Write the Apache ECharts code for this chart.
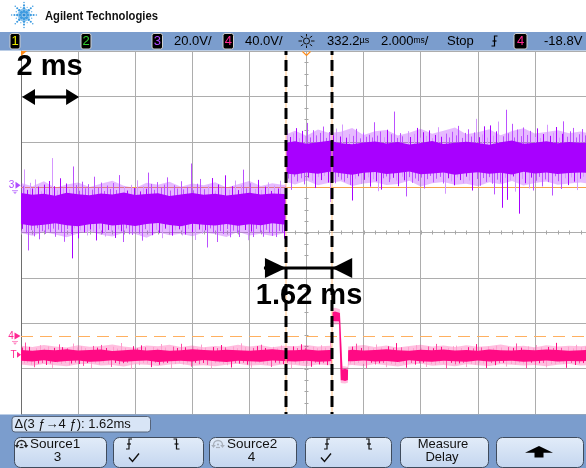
<!DOCTYPE html>
<html>
<head>
<meta charset="utf-8">
<script src="https://cdn.jsdelivr.net/npm/echarts@6/dist/echarts.min.js"></script>
<style>
  html, body { margin: 0; padding: 0; background: #ffffff; }
  #scope { width: 586px; height: 468px; }
</style>
</head>
<body>
<div id="scope"></div>
<script>
// ---- Acquisition settings ----
const timePerDiv = 2;                 // ms / div
const timeSpan = [-10, 10];           // ms, screen centre = 0
const timeVisibleMax = 9.79;          // right edge of the screen capture
const ch3Scale = 20;                  // V / div
const ch4Scale = 40;                  // V / div
const ch3Range = [-100, 60];          // V, 8 divisions
const ch4Range = [-68.8, 251.2];      // V, 8 divisions
const ch4TriggerLevel = -18.8;        // V
const delayText = '332.2';            // µs
const timebaseText = '2.000';         // ms/div

// ---- Cursors (ms) ----
const cursorA = -0.72;
const cursorB = 0.90;

// ---- Channel 3 (purple) ----
const ch3StepTime = -0.72;
const ch3Levels = [-10, 13];
const ch3Times = [-10, -9.6, -9.2, -8.8, -8.4, -8, -7.6, -7.2, -6.8, -6.4, -6, -5.6, -5.2, -4.8, -4.4, -4, -3.6, -3.2, -2.8, -2.4, -2, -1.6, -1.2, -0.8, -0.72,
  -0.72, -0.4, 0, 0.4, 0.8, 1.2, 1.6, 2, 2.4, 2.8, 3.2, 3.6, 4, 4.4, 4.8, 5.2, 5.6, 6, 6.4, 6.8, 7.2, 7.6, 8, 8.4, 8.8, 9.2, 9.6, 10];
const ch3CoreHi = [-2.6, -3.4, -2.9, -3.8, -2.5, -3.1, -3.6, -2.8, -3.3, -2.4, -3.5, -3.0, -2.7, -3.9, -3.2, -2.6, -3.4, -2.9, -3.7, -3.1, -2.5, -3.3, -2.8, -3.0, -3.2,
  19.6, 20.2, 19.1, 19.8, 20.4, 19.3, 18.9, 19.7, 20.1, 19.2, 19.9, 18.8, 19.5, 20.3, 19.0, 19.6, 20.0, 19.4, 18.7, 19.8, 20.5, 19.1, 19.6, 20.2, 19.3, 19.9, 19.4, 19.7];
const ch3CoreLo = [-16.2, -17.0, -16.6, -15.9, -16.8, -17.3, -16.4, -16.0, -16.9, -16.5, -17.1, -16.3, -15.8, -16.7, -17.2, -16.1, -16.6, -16.9, -16.2, -17.0, -16.4, -16.8, -15.9, -16.5, -16.7,
  6.0, 5.6, 6.4, 5.9, 6.8, 6.1, 5.5, 6.3, 6.7, 5.8, 6.2, 6.9, 5.7, 6.0, 6.5, 5.4, 6.1, 6.6, 5.9, 6.3, 5.6, 6.8, 6.0, 6.4, 5.8, 6.2, 6.5, 6.1];
const ch3FuzzHi = [1.8, 0.4, 2.6, -0.3, 1.2, 2.0, 0.1, 1.5, 2.8, 0.6, -0.4, 1.9, 1.0, 2.4, 0.2, 1.6, 0.8, 2.2, -0.2, 1.3, 2.7, 0.5, 1.7, 0.9, 1.4,
  23.2, 24.8, 22.6, 25.4, 23.9, 24.4, 26.1, 23.0, 24.6, 25.2, 22.8, 24.0, 25.7, 23.5, 24.9, 26.3, 23.3, 24.2, 25.5, 22.9, 24.7, 25.9, 23.6, 24.3, 25.1, 23.8, 24.5, 23.4];
const ch3FuzzLo = [-20.2, -21.4, -19.8, -20.9, -22.1, -20.4, -19.6, -21.0, -21.8, -20.1, -20.7, -22.3, -19.9, -21.2, -20.5, -21.7, -20.0, -20.8, -22.0, -19.7, -21.3, -20.6, -21.5, -20.3, -20.9,
  2.4, 1.2, 2.9, 0.8, 1.9, 2.6, 0.5, 1.6, 2.2, 0.9, 1.4, 2.8, 0.3, 1.7, 2.3, 1.0, 1.5, 0.4, 2.1, 1.3, 2.7, 0.7, 1.8, 2.5, 1.1, 1.6, 2.0, 1.4];
const ch3Spikes = [
  [-9.97, -18.4], [-9.93, 0.6], [-9.89, 7.8], [-9.84, -20.3], [-9.79, -1.2], [-9.75, -27.9], [-9.70, 1.9], [-9.66, -18.9], [-9.60, -0.6], [-9.55, -21.7],
  [-9.50, 3.4], [-9.45, -18.1], [-9.41, 0.2], [-9.36, -23.0], [-9.30, -1.8], [-9.26, -19.4], [-9.21, 1.1], [-9.15, -20.6], [-9.11, -0.9], [-9.06, -18.6],
  [-9.02, 2.7], [-8.97, -19.9], [-8.92, 12.8], [-8.87, -18.3], [-8.83, 0.4], [-8.80, -21.9], [-8.74, -1.4], [-8.69, -18.8], [-8.64, 3.9], [-8.59, -20.2],
  [-8.53, -0.3], [-8.48, -24.1], [-8.43, 1.6], [-8.38, -18.5], [-8.31, -1.0], [-8.26, -20.7], [-8.22, -31.4], [-8.18, 9.1], [-8.13, -18.2], [-8.07, 0.9],
  [-8.02, -22.6], [-7.97, -1.6], [-7.92, -19.1], [-7.86, 2.4], [-7.81, -20.0], [-7.76, -0.5], [-7.70, -21.3], [-7.65, 1.3], [-7.60, -18.7], [-7.52, -1.1],
  [-7.47, -19.6], [-7.43, 4.6], [-7.38, -23.5], [-7.32, -0.2], [-7.27, -18.4], [-7.21, 2.0], [-7.16, -20.4], [-7.10, -1.7], [-7.05, -21.8], [-7.00, 0.7],
  [-6.95, -18.9], [-6.90, -0.8], [-6.84, -20.1], [-6.78, 1.8], [-6.72, -22.4], [-6.67, -1.3], [-6.61, -18.6], [-6.55, 5.3], [-6.49, -19.5], [-6.43, -24.2],
  [-6.38, 0.3], [-6.33, -18.2], [-6.28, -1.5], [-6.22, -20.8], [-6.16, 1.0], [-6.10, -21.1], [-6.05, -0.4], [-5.99, -19.3], [-5.93, 3.0], [-5.88, -20.5],
  [-5.82, -1.9], [-5.76, -23.6], [-5.71, 0.5], [-5.66, -18.5], [-5.61, -0.7], [-5.55, 6.4], [-5.50, -19.8], [-5.45, 1.4], [-5.40, -21.2], [-5.34, -1.2],
  [-5.28, -18.8], [-5.22, 2.2], [-5.16, -20.3], [-5.10, -0.1], [-5.05, -22.5], [-5.00, 1.1], [-4.94, -18.3], [-4.88, 4.3], [-4.83, -19.7], [-4.77, -1.5],
  [-4.70, -21.4], [-4.65, 0.8], [-4.59, -19.1], [-4.52, -0.6], [-4.46, -18.6], [-4.41, 2.6], [-4.37, -21.3], [-4.31, -1.0], [-4.26, -20.9], [-4.20, 0.1],
  [-4.14, -18.4], [-4.06, 10.4], [-4.01, -19.9], [-3.96, -1.4], [-3.90, -23.3], [-3.84, 1.5], [-3.78, -18.7], [-3.72, 3.6], [-3.66, -20.6], [-3.60, -0.9],
  [-3.55, -19.0], [-3.50, -26.6], [-3.44, 0.6], [-3.38, -18.2], [-3.32, 4.0], [-3.26, -20.2], [-3.20, -1.6], [-3.15, -24.2], [-3.09, 1.2], [-3.04, -19.4],
  [-2.98, -0.3], [-2.91, -20.7], [-2.85, 5.2], [-2.79, -18.5], [-2.73, -1.1], [-2.68, -22.1], [-2.62, 0.4], [-2.56, -19.2], [-2.50, 2.9], [-2.45, -20.4],
  [-2.40, -1.3], [-2.36, -22.0], [-2.30, 0.9], [-2.23, 7.7], [-2.17, -18.9], [-2.11, -0.5], [-2.05, -23.4], [-1.99, 1.7], [-1.93, -19.6], [-1.87, -22.0],
  [-1.81, -0.8], [-1.76, -18.4], [-1.70, 3.2], [-1.64, -19.8], [-1.58, -1.2], [-1.52, -21.9], [-1.46, 0.2], [-1.41, -18.8], [-1.36, 2.1], [-1.30, -20.3],
  [-1.25, -1.7], [-1.20, -21.5], [-1.14, 0.7], [-1.07, -22.0], [-1.01, -0.6], [-0.97, -19.3], [-0.93, 2.8], [-0.87, -20.1], [-0.80, -22.7], [-0.76, 0.3],
  [-0.69, 25.4], [-0.64, 3.8], [-0.58, 22.1], [-0.53, -1.2], [-0.48, 23.7], [-0.43, 4.6], [-0.37, 26.0], [-0.32, 2.5], [-0.26, 21.6], [-0.21, 3.9],
  [-0.15, 24.8], [-0.10, 1.2], [-0.05, 22.5], [0.02, 28.3], [0.07, 4.2], [0.13, 21.9], [0.18, 2.8], [0.24, 25.1], [0.29, -0.4], [0.35, 22.8],
  [0.40, 4.4], [0.46, 23.9], [0.52, 3.1], [0.57, 26.7], [0.63, 4.9], [0.68, 21.7], [0.74, 2.0], [0.79, 24.3], [0.82, -6.6], [0.88, 3.6],
  [0.94, 22.9], [0.99, 1.7], [1.05, 25.8], [1.10, 4.5], [1.16, 22.3], [1.21, 3.3], [1.26, 27.6], [1.32, 2.4], [1.37, 21.8], [1.42, 4.0],
  [1.48, 23.4], [1.53, 0.9], [1.58, -5.9], [1.64, 22.6], [1.70, 3.7], [1.75, 25.7], [1.81, 4.8], [1.86, 21.5], [1.92, 1.4], [1.97, 24.0],
  [2.03, 3.2], [2.08, 22.2], [2.14, 4.3], [2.19, 23.1], [2.22, 0.2], [2.28, 21.9], [2.33, 3.5], [2.36, 28.6], [2.42, 2.6], [2.47, 22.7],
  [2.50, -1.8], [2.56, 24.5], [2.61, -1.1], [2.67, 3.9], [2.72, 22.0], [2.78, 4.7], [2.83, 25.3], [2.88, 2.2], [2.92, 3.4], [2.97, 23.3],
  [3.03, 4.1], [3.08, 33.3], [3.13, 2.9], [3.18, 21.7], [3.22, 0.4], [3.28, 23.8], [3.33, 4.6], [3.36, 22.4], [3.42, 3.0], [3.49, -4.1],
  [3.54, 24.7], [3.59, 4.4], [3.64, 22.1], [3.70, 1.9], [3.75, 23.5], [3.80, 3.8], [3.86, 26.1], [3.91, 2.7], [3.96, 21.8], [4.02, 4.2],
  [4.07, 24.2], [4.12, -0.6], [4.18, 22.6], [4.23, 3.5], [4.28, 25.0], [4.34, 4.9], [4.39, 21.6], [4.44, 2.1], [4.50, 23.0], [4.55, 3.7],
  [4.60, 26.4], [4.66, 4.5], [4.71, 22.2], [4.77, 1.6], [4.85, -2.9], [4.90, 23.6], [4.95, 3.9], [5.00, 21.9], [5.06, 2.5], [5.11, 24.4],
  [5.16, 0.8], [5.22, 22.8], [5.27, 4.3], [5.32, 27.0], [5.38, 3.1], [5.43, 21.7], [5.48, 1.8], [5.54, 23.9], [5.59, 4.6], [5.64, 25.5],
  [5.70, 2.9], [5.75, 22.3], [5.80, -1.5], [5.86, 24.1], [5.93, 30.1], [5.98, 3.6], [6.03, 22.0], [6.08, 0.6], [6.14, 23.2], [6.18, 4.0],
  [6.22, 26.8], [6.28, 2.3], [6.33, 21.8], [6.38, 4.4], [6.43, 27.2], [6.49, 1.5], [6.54, 22.7], [6.58, -3.2], [6.64, 24.6], [6.68, 3.3],
  [6.72, 28.9], [6.78, 2.0], [6.84, -9.1], [6.90, 22.4], [6.95, 4.1], [6.98, 34.1], [7.01, -5.6], [7.07, 23.7], [7.12, 3.0], [7.19, 27.9],
  [7.24, 4.7], [7.28, 21.9], [7.32, -2.0], [7.38, 25.4], [7.45, -11.7], [7.50, 22.5], [7.55, 3.6], [7.60, 26.3], [7.66, 1.7], [7.71, 23.0],
  [7.78, -0.6], [7.83, 24.8], [7.88, 4.2], [7.94, -1.5], [7.99, 22.1], [8.03, 2.8], [8.08, 25.9], [8.14, 4.5], [8.19, 21.6], [8.24, 0.3],
  [8.30, 23.4], [8.35, 3.4], [8.41, 27.5], [8.46, 2.2], [8.52, 22.6], [8.59, -3.7], [8.64, 24.0], [8.69, 4.8], [8.74, 26.5], [8.80, 2.6],
  [8.85, 21.8], [8.90, -0.8], [8.95, 23.5], [9.00, 29.0], [9.06, 3.9], [9.11, 22.2], [9.16, 0.9], [9.22, 24.6], [9.27, 4.3], [9.32, 26.1],
  [9.38, 2.4], [9.43, 21.9], [9.48, -1.3], [9.54, 23.3], [9.59, 3.7], [9.64, 25.6], [9.70, 4.6], [9.75, 22.8]
];

// ---- Channel 4 (pink) ----
const ch4Level = -17;
const ch4Times = [-10, -9.6, -9.2, -8.8, -8.4, -8, -7.6, -7.2, -6.8, -6.4, -6, -5.6, -5.2, -4.8, -4.4, -4, -3.6, -3.2, -2.8, -2.4, -2, -1.6, -1.2, -0.8, -0.4, 0, 0.4, 0.8,
  0.89, 0.9, 1.0, 1.12, 1.14, 1.17, 1.20, 1.26, 1.35, 1.45, 1.46,
  1.6, 2, 2.4, 2.8, 3.2, 3.6, 4, 4.4, 4.8, 5.2, 5.6, 6, 6.4, 6.8, 7.2, 7.6, 8, 8.4, 8.8, 9.2, 9.6, 10];
const ch4CoreHi = [-12.3, -13.0, -12.1, -12.7, -11.8, -12.9, -12.4, -12.0, -13.2, -12.5, -11.9, -12.8, -12.2, -13.1, -12.6, -11.7, -12.4, -12.9, -12.1, -12.6, -13.0, -12.3, -11.8, -12.7, -12.5, -12.0, -12.8, -12.4,
  -12.2, 21.0, 21.6, 20.6, 20.5, 20.3, 3.7, -29.5, -29.0, -29.8, -12.6,
  -12.1, -12.9, -12.4, -11.8, -12.7, -13.1, -12.2, -12.6, -12.0, -12.8, -12.3, -13.0, -11.9, -12.5, -12.9, -12.2, -12.7, -12.0, -12.4, -13.1, -12.6, -12.3];
const ch4CoreLo = [-21.8, -22.5, -21.4, -22.9, -22.1, -21.6, -22.7, -22.3, -21.5, -22.8, -22.0, -21.7, -23.0, -22.2, -21.9, -22.6, -21.3, -22.4, -22.9, -21.8, -22.3, -22.7, -21.6, -22.1, -22.5, -21.9, -22.8, -22.2,
  -22.0, 13.5, 13.0, 12.9, 12.5, -13.0, -39.0, -39.0, -39.8, -38.9, -22.4,
  -22.3, -21.7, -22.6, -22.0, -22.9, -21.5, -22.4, -22.8, -21.8, -22.2, -22.7, -21.6, -22.5, -22.1, -21.9, -22.8, -22.3, -21.7, -22.6, -22.0, -22.4, -21.9];
const ch4FuzzHi = [-8.6, -9.8, -7.9, -9.3, -10.1, -8.2, -9.6, -8.9, -7.6, -9.4, -10.3, -8.5, -9.1, -7.8, -9.7, -8.4, -10.0, -8.8, -9.5, -7.7, -9.2, -8.1, -9.9, -8.7, -9.0, -7.9, -9.4, -8.6,
  -8.8, 24.2, 24.8, 23.9, 23.7, 23.5, 6.5, -26.8, -26.6, -27.4, -9.2,
  -9.1, -8.0, -9.7, -8.5, -10.2, -8.8, -7.7, -9.3, -8.4, -9.8, -8.1, -9.5, -8.9, -7.6, -9.2, -8.6, -10.0, -8.3, -9.4, -8.7, -9.0, -8.2];
const ch4FuzzLo = [-25.2, -26.3, -24.8, -25.9, -26.8, -25.0, -24.6, -26.1, -25.7, -26.9, -24.9, -25.4, -26.5, -25.1, -24.7, -26.2, -25.8, -26.7, -25.3, -24.5, -26.0, -25.6, -26.4, -24.9, -25.5, -26.6, -25.2, -25.9,
  -25.6, 10.4, 10.0, 10.3, 9.8, -16.0, -41.5, -41.8, -42.0, -41.2, -25.8,
  -25.7, -26.4, -24.8, -25.9, -26.9, -25.2, -24.6, -26.2, -25.5, -26.7, -25.0, -25.8, -26.5, -24.9, -25.4, -26.1, -25.6, -26.8, -25.3, -24.7, -26.0, -25.5];
const ch4Spikes = [
  [-9.96, -10.2], [-9.90, -24.1], [-9.85, -5.8], [-9.78, -23.7], [-9.71, -9.6], [-9.64, -25.3], [-9.55, -27.6], [-9.49, -10.8], [-9.42, -24.4], [-9.35, -8.1],
  [-9.27, -23.9], [-9.20, -11.0], [-9.13, -25.6], [-9.05, -9.3], [-8.97, -24.2], [-8.90, -28.1], [-8.83, -10.5], [-8.75, -23.6], [-8.68, -7.4], [-8.60, -24.8],
  [-8.55, -9.9], [-8.47, -23.8], [-8.40, -10.9], [-8.32, -25.9], [-8.25, -24.3], [-8.18, -6.7], [-8.10, -23.5], [-8.03, -10.1], [-7.96, -24.7], [-7.90, -9.2],
  [-7.82, -26.4], [-7.75, -10.7], [-7.68, -23.9], [-7.55, -28.4], [-7.49, -8.8], [-7.42, -24.1], [-7.34, -10.3], [-7.27, -25.2], [-7.20, -7.9], [-7.12, -23.7],
  [-7.04, -10.6], [-6.97, -24.6], [-6.85, -27.3], [-6.78, -9.5], [-6.70, -23.8], [-6.62, -11.1], [-6.55, -25.0], [-6.50, -6.2], [-6.42, -24.0], [-6.35, -10.4],
  [-6.27, -23.6], [-6.15, -28.8], [-6.08, -9.0], [-6.00, -24.5], [-5.93, -10.8], [-5.86, -25.7], [-5.80, -8.3], [-5.72, -23.9], [-5.64, -10.0], [-5.57, -24.3],
  [-5.45, -27.5], [-5.38, -9.7], [-5.31, -23.5], [-5.23, -11.0], [-5.16, -25.4], [-5.10, -7.1], [-5.02, -24.1], [-4.95, -10.2], [-4.87, -23.8], [-4.75, -28.2],
  [-4.68, -9.4], [-4.60, -24.7], [-4.53, -10.6], [-4.46, -23.6], [-4.40, -6.9], [-4.32, -25.1], [-4.25, -10.0], [-4.17, -24.2], [-4.05, -27.1], [-3.98, -9.1],
  [-3.90, -23.7], [-3.83, -10.9], [-3.76, -24.9], [-3.70, -7.6], [-3.62, -23.8], [-3.55, -10.3], [-3.47, -25.5], [-3.35, -28.6], [-3.28, -9.8], [-3.20, -24.0],
  [-3.13, -10.7], [-3.06, -23.6], [-3.00, -8.0], [-2.92, -24.6], [-2.85, -10.1], [-2.77, -25.8], [-2.65, -27.8], [-2.58, -9.3], [-2.50, -23.9], [-2.43, -10.8],
  [-2.36, -24.4], [-2.30, -6.5], [-2.22, -23.7], [-2.15, -9.9], [-2.07, -25.3], [-1.95, -28.0], [-1.88, -10.5], [-1.80, -24.1], [-1.73, -9.0], [-1.66, -23.8],
  [-1.60, -7.7], [-1.52, -24.8], [-1.45, -10.6], [-1.37, -25.6], [-1.25, -27.4], [-1.18, -9.6], [-1.10, -23.5], [-1.03, -10.9], [-0.96, -24.3], [-0.90, -8.4],
  [-0.82, -24.9], [-0.75, -10.2], [-0.67, -23.7], [-0.55, -28.5], [-0.48, -9.2], [-0.40, -24.5], [-0.33, -10.7], [-0.26, -25.4], [-0.20, -7.3], [-0.12, -23.9],
  [-0.05, -10.4], [0.03, -24.6], [0.15, -27.2], [0.22, -9.5], [0.30, -23.6], [0.37, -10.8], [0.44, -25.1], [0.50, -8.2], [0.58, -24.0], [0.65, -10.3],
  [0.72, -25.7], [0.82, -4.4], [0.86, -24.3],
  [1.52, -24.2], [1.58, -9.4], [1.66, -25.5], [1.75, -6.8], [1.82, -23.8], [1.90, -10.6], [1.97, -24.7], [2.10, -28.3], [2.17, -9.7], [2.25, -23.6],
  [2.32, -10.9], [2.39, -25.2], [2.45, -7.5], [2.53, -24.1], [2.60, -10.2], [2.68, -23.9], [2.80, -27.6], [2.87, -9.1], [2.95, -24.8], [3.02, -10.5],
  [3.09, -25.6], [3.15, -6.3], [3.23, -23.7], [3.30, -10.0], [3.38, -24.4], [3.50, -28.0], [3.57, -9.8], [3.65, -23.8], [3.72, -10.7], [3.79, -25.3],
  [3.85, -8.1], [3.93, -24.0], [4.00, -10.3], [4.08, -23.6], [4.20, -27.3], [4.27, -9.3], [4.35, -24.9], [4.42, -10.8], [4.49, -25.7], [4.55, -7.0],
  [4.63, -23.9], [4.70, -9.6], [4.78, -24.5], [4.90, -28.7], [4.97, -10.4], [5.05, -23.7], [5.12, -9.0], [5.19, -25.1], [5.25, -8.5], [5.33, -24.2],
  [5.40, -10.6], [5.48, -23.8], [5.60, -27.5], [5.67, -9.9], [5.75, -24.6], [5.82, -10.9], [5.89, -25.4], [5.95, -7.2], [6.03, -23.6], [6.10, -10.1],
  [6.18, -24.3], [6.30, -28.2], [6.37, -9.4], [6.45, -23.9], [6.52, -10.7], [6.59, -25.8], [6.65, -8.6], [6.73, -24.0], [6.80, -10.2], [6.88, -23.7],
  [7.00, -27.0], [7.07, -9.8], [7.15, -24.7], [7.22, -10.5], [7.29, -25.2], [7.35, -6.6], [7.43, -23.8], [7.50, -10.3], [7.58, -24.4], [7.70, -28.4],
  [7.77, -9.2], [7.85, -23.6], [7.92, -10.8], [7.99, -25.5], [8.05, -8.0], [8.13, -24.1], [8.20, -10.0], [8.28, -23.9], [8.40, -27.8], [8.47, -9.7],
  [8.55, -24.8], [8.62, -10.6], [8.69, -25.0], [8.75, -6.1], [8.83, -23.7], [8.90, -10.4], [8.98, -24.5], [9.10, -28.1], [9.17, -9.5], [9.25, -23.8],
  [9.32, -10.9], [9.39, -25.6], [9.45, -7.8], [9.53, -24.2], [9.60, -10.1], [9.68, -23.9], [9.75, -9.3]
];

// ---- Colours ----
const PURPLE = '#a800ff', PURPLE_MID = '#bb50ff', PURPLE_LIGHT = '#d596ff', PURPLE_FUZZ = 'rgba(176,40,255,0.32)';
const PINK = '#ff0a84', PINK_MID = '#ff4aa4', PINK_LIGHT = '#ff9ccc', PINK_FUZZ = 'rgba(255,20,140,0.28)';
const ORANGE = '#f4a04a';
const PANEL = '#7b9dcd';
const FONT = '"Liberation Sans", Arial, sans-serif';

const chart = echarts.init(document.getElementById('scope'), null, { renderer: 'canvas' });

function envelopeSeries(yAxisIndex, times, hi, lo, fill, z) {
  return {
    type: 'custom', yAxisIndex, z, silent: true, clip: true,
    data: [[times[0], hi[0]]],
    renderItem: (params, api) => {
      const pts = [];
      for (let i = 0; i < times.length; i++) pts.push(api.coord([times[i], hi[i]]));
      for (let i = times.length - 1; i >= 0; i--) pts.push(api.coord([times[i], lo[i]]));
      return { type: 'polygon', shape: { points: pts }, style: { fill } };
    }
  };
}

function spikeSeries(yAxisIndex, spikes, levelAt, colors, z) {
  return {
    type: 'custom', yAxisIndex, z, silent: true, clip: true,
    data: spikes,
    renderItem: (params, api) => {
      const t = api.value(0), v = api.value(1);
      const a = api.coord([t, levelAt(t)]), b = api.coord([t, v]);
      const x = Math.round(a[0]) + 0.5;
      return { type: 'line', shape: { x1: x, y1: a[1], x2: x, y2: b[1] },
        style: { stroke: colors[params.dataIndex % colors.length], lineWidth: 1 } };
    }
  };
}

function refLineSeries(yAxisIndex, value, color, dash) {
  return {
    type: 'custom', yAxisIndex, z: 2, silent: true,
    data: [[timeSpan[0], value]],
    renderItem: (params, api) => {
      const l = api.coord([timeSpan[0], value]), r = api.coord([timeSpan[1], value]);
      const y = Math.round(l[1]) + 0.5;
      return { type: 'line', shape: { x1: l[0], y1: y, x2: r[0], y2: y },
        style: { stroke: color, lineWidth: 1, lineDash: dash || null } };
    }
  };
}

// Minor ticks on the centre axes of the graticule
const graticuleTicks = {
  type: 'custom', yAxisIndex: 0, z: 1, silent: true,
  data: [[0, -20]],
  renderItem: (params, api) => {
    const kids = [];
    const midY = (ch3Range[0] + ch3Range[1]) / 2;
    for (let t = timeSpan[0]; t <= timeSpan[1] + 1e-9; t += timePerDiv / 5) {
      const p = api.coord([t, midY]);
      const x = Math.round(p[0]) + 0.5;
      kids.push({ type: 'line', shape: { x1: x, y1: p[1] - 2, x2: x, y2: p[1] + 2 }, style: { stroke: '#a6a6a6', lineWidth: 1 } });
    }
    for (let v = ch3Range[0]; v <= ch3Range[1] + 1e-9; v += ch3Scale / 4) {
      const p = api.coord([0, v]);
      const y = Math.round(p[1]) + 0.5;
      kids.push({ type: 'line', shape: { x1: p[0] - 2, y1: y, x2: p[0] + 2, y2: y }, style: { stroke: '#a6a6a6', lineWidth: 1 } });
    }
    return { type: 'group', children: kids };
  }
};

// Measurement cursors
const cursorSeries = {
  type: 'custom', yAxisIndex: 0, z: 8, silent: true,
  data: [[cursorA, 0], [cursorB, 0]],
  renderItem: (params, api) => {
    const t = api.value(0);
    const top = api.coord([t, ch3Range[1]]), bot = api.coord([t, ch3Range[0]]);
    const x = Math.round(top[0]);
    return { type: 'group', children: [
      { type: 'line', shape: { x1: x, y1: top[1], x2: x, y2: bot[1] }, style: { stroke: '#ffc58a', lineWidth: 1 } },
      { type: 'line', shape: { x1: x, y1: top[1], x2: x, y2: bot[1] }, style: { stroke: '#000', lineWidth: 3, lineDash: [11, 5], lineDashOffset: 7 } }
    ] };
  }
};

// Arrows and captions for the time base and the measured delay
const delayMs = (cursorB - cursorA).toFixed(2);
const annotationSeries = {
  type: 'custom', yAxisIndex: 0, z: 9, silent: true,
  data: [[cursorA, 0]],
  renderItem: (params, api) => {
    const xa = api.coord([cursorA, 0])[0], xb = api.coord([cursorB, 0])[0];
    const x0 = api.coord([timeSpan[0], 0])[0], x1 = api.coord([timeSpan[0] + timePerDiv, 0])[0];
    const ay = 268, sy = 97;
    return { type: 'group', children: [
      { type: 'line', shape: { x1: xa - 22, y1: ay, x2: xb + 19, y2: ay }, style: { stroke: '#000', lineWidth: 3 } },
      { type: 'polygon', shape: { points: [[xa, ay], [xa - 21, ay - 10], [xa - 21, ay + 10]] }, style: { fill: '#000' } },
      { type: 'polygon', shape: { points: [[xb, ay], [xb + 20, ay - 10], [xb + 20, ay + 10]] }, style: { fill: '#000' } },
      { type: 'text', style: { text: delayMs + ' ms', x: (xa + xb) / 2, y: 296, font: 'bold 29px ' + FONT, fill: '#000', align: 'center', verticalAlign: 'middle' } },
      { type: 'line', shape: { x1: x0 + 4, y1: sy, x2: x1 - 3, y2: sy }, style: { stroke: '#000', lineWidth: 3 } },
      { type: 'polygon', shape: { points: [[x0 + 1, sy], [x0 + 14, sy - 8], [x0 + 14, sy + 8]] }, style: { fill: '#000' } },
      { type: 'polygon', shape: { points: [[x1 + 1, sy], [x1 - 12, sy - 8], [x1 - 12, sy + 8]] }, style: { fill: '#000' } },
      { type: 'text', style: { text: timePerDiv + ' ms', x: (x0 + x1) / 2, y: 67, font: 'bold 29px ' + FONT, fill: '#000', align: 'center', verticalAlign: 'middle' } }
    ] };
  }
};

const ch3LevelAt = t => (t < ch3StepTime ? ch3Levels[0] : ch3Levels[1]);
const ch4LevelAt = () => ch4Level;

chart.setOption({
  animation: false,
  backgroundColor: '#ffffff',
  grid: { left: 21, top: 51, right: 0, height: 363, show: false },
  xAxis: {
    type: 'value', min: timeSpan[0], max: timeVisibleMax, interval: timePerDiv,
    axisLine: { show: false }, axisTick: { show: false }, axisLabel: { show: false },
    splitLine: { show: true, lineStyle: { color: '#adadad', width: 1 } }
  },
  yAxis: [
    {
      type: 'value', min: ch3Range[0], max: ch3Range[1], interval: ch3Scale,
      axisLine: { show: true, onZero: false, lineStyle: { color: '#6e6e6e', width: 1 } },
      axisTick: { show: false }, axisLabel: { show: false },
      splitLine: { show: true, lineStyle: { color: '#adadad', width: 1 } }
    },
    { type: 'value', min: ch4Range[0], max: ch4Range[1], show: false, splitLine: { show: false } }
  ],
  series: [
    graticuleTicks,
    refLineSeries(0, 0, ORANGE),
    refLineSeries(1, 0, '#ffb060', [12, 7]),
    envelopeSeries(0, ch3Times, ch3FuzzHi, ch3FuzzLo, PURPLE_FUZZ, 3),
    spikeSeries(0, ch3Spikes, ch3LevelAt, [PURPLE, PURPLE_MID, PURPLE_LIGHT, PURPLE_MID], 4),
    envelopeSeries(0, ch3Times, ch3CoreHi, ch3CoreLo, PURPLE, 5),
    envelopeSeries(1, ch4Times, ch4FuzzHi, ch4FuzzLo, PINK_FUZZ, 3),
    spikeSeries(1, ch4Spikes, ch4LevelAt, [PINK, PINK_LIGHT, PINK_MID, PINK_LIGHT], 4),
    envelopeSeries(1, ch4Times, ch4CoreHi, ch4CoreLo, PINK, 5),
    cursorSeries,
    annotationSeries
  ]
});

// ---- Instrument frame: header, status bar, soft-key panel ----
const G = [];
const Z = 100;
function rect(x, y, w, h, fill, stroke, r, lw) {
  G.push({ type: 'rect', z: Z, silent: true, shape: { x, y, width: w, height: h, r: r || 0 },
    style: { fill, stroke: stroke || null, lineWidth: lw || 1 } });
}
function text(x, y, str, size, color, align, weight, extra) {
  G.push(Object.assign({ type: 'text', z: Z + 1, silent: true,
    style: { text: str, x, y, font: (weight || 'normal') + ' ' + size + 'px ' + FONT, fill: color,
      align: align || 'left', verticalAlign: 'middle' } }, extra || {}));
}
function poly(points, fill, stroke, lw, closed) {
  G.push({ type: closed === false ? 'polyline' : 'polygon', z: Z + 1, silent: true, shape: { points },
    style: { fill: closed === false ? null : (fill || null), stroke: stroke || null, lineWidth: lw || 1 } });
}
function edge(cx, cy, rising, color) {
  const s = rising ? 1 : -1;
  poly([[cx - 3, cy + 5 * s], [cx, cy + 5 * s], [cx, cy - 5 * s], [cx + 3, cy - 5 * s]], null, color, 1.2, false);
  poly([[cx - 2, cy], [cx + 2, cy]], null, color, 1.2, false);
}

// Agilent spark
const logo = [24, 15];
for (let k = 0; k < 8; k++) {
  const a = k * Math.PI / 4;
  [[3.6, 1.6], [6.6, 1.35], [9.6, 1.05], [12.4, 0.75]].forEach(([r, s]) =>
    G.push({ type: 'circle', z: Z, silent: true, shape: { cx: logo[0] + r * Math.cos(a), cy: logo[1] + r * Math.sin(a), r: s }, style: { fill: '#3d9be0' } }));
  const b = a + Math.PI / 8;
  [[5.3, 1.0], [8.3, 0.7]].forEach(([r, s]) =>
    G.push({ type: 'circle', z: Z, silent: true, shape: { cx: logo[0] + r * Math.cos(b), cy: logo[1] + r * Math.sin(b), r: s }, style: { fill: '#6cb6ea' } }));
}
G.push({ type: 'circle', z: Z, silent: true, shape: { cx: logo[0], cy: logo[1], r: 1.8 }, style: { fill: '#2a8ad6' } });
G.push({ type: 'text', z: Z + 1, silent: true, x: 45, y: 17, scaleX: 0.9,
  style: { text: 'Agilent Technologies', x: 0, y: 0, font: 'bold 12.5px ' + FONT, fill: '#111', align: 'left', verticalAlign: 'middle' } });

// Status bar
rect(0, 32, 586, 18.5, PANEL);
function numBox(x, w, digit, color) {
  rect(x, 33.5, w, 15.5, '#000', '#cfcfcf', 2);
  text(x + w / 2, 41.5, digit, 13, color, 'center');
}
numBox(10, 10, '1', '#e8e800');
numBox(81, 10, '2', '#33d033');
numBox(152, 10.5, '3', '#b04cff');
text(174, 41, ch3Scale.toFixed(1) + 'V/', 13, '#000');
numBox(223, 10.5, '4', '#ff2a93');
text(245, 41, ch4Scale.toFixed(1) + 'V/', 13, '#000');
// trigger-delay icon
G.push({ type: 'circle', z: Z + 1, silent: true, shape: { cx: 306.5, cy: 41, r: 3 }, style: { fill: null, stroke: '#111', lineWidth: 1 } });
for (let k = 0; k < 8; k++) {
  const a = k * Math.PI / 4;
  poly([[306.5 + 4.5 * Math.cos(a), 41 + 4.5 * Math.sin(a)], [306.5 + 8 * Math.cos(a), 41 + 7 * Math.sin(a)]], null, '#111', 1, false);
}
text(327, 41, '', 13, '#000', 'left', 'normal',
  { style: { text: '{a|' + delayText + '}{u|µs}', x: 327, y: 41, verticalAlign: 'middle', rich: {
    a: { font: '13px ' + FONT, fill: '#000' }, u: { font: '9px ' + FONT, fill: '#000' } } } });
text(381, 41, '', 13, '#000', 'left', 'normal',
  { style: { text: '{a|' + timebaseText + '}{u|ms}{a|/}', x: 381, y: 41, verticalAlign: 'middle', rich: {
    a: { font: '13px ' + FONT, fill: '#000' }, u: { font: '8.5px ' + FONT, fill: '#000' } } } });
text(447, 41, 'Stop', 13, '#000');
edge(494.5, 41, true, '#000');
numBox(514, 13, '4', '#ff2a93');
text(544, 41, ch4TriggerLevel.toFixed(1) + 'V', 13, '#000');

// Markers along the top edge of the graticule
poly([[21, 51], [27, 51], [21, 56]], '#ff8c1a');
poly([[302.5, 51.5], [306.5, 55.5], [310.5, 51.5]], null, '#ff8c1a', 1.2, false);

// Soft-key panel
rect(0, 414.5, 586, 54, PANEL);
rect(12, 416.5, 138.5, 15.5, '#d8e5f6', '#56647a', 3);
text(14.5, 424.5, 'Δ(3 ƒ→4 ƒ): ' + delayMs + 'ms', 13, '#111');
const keyFill = { type: 'linear', x: 0, y: 0, x2: 0, y2: 1, colorStops: [{ offset: 0, color: '#e2ecf9' }, { offset: 1, color: '#c4d6ef' }] };
[[14, 92], [113, 90], [209, 87], [305, 86], [400, 88], [496, 87]].forEach(([x, w]) => rect(x + 0.5, 437.5, w, 30, keyFill, '#3f4b5c', 6));

function sourceIcon(cx, cy, color) {
  G.push({ type: 'arc', z: Z + 1, silent: true, shape: { cx, cy, r: 4.5, startAngle: Math.PI, endAngle: Math.PI * 2, clockwise: true }, style: { fill: null, stroke: color, lineWidth: 1.3 } });
  poly([[cx - 6.8, cy], [cx - 2.2, cy], [cx - 4.5, cy + 3]], color);
  poly([[cx + 2.2, cy], [cx + 6.8, cy], [cx + 4.5, cy + 3]], color);
  poly([[cx - 2, cy + 2.5], [cx + 2, cy + 2.5]], null, color, 1.2, false);
  G.push({ type: 'circle', z: Z + 1, silent: true, shape: { cx, cy: cy - 0.5, r: 1.1 }, style: { fill: color } });
}
function check(cx, cy) { poly([[cx - 5, cy], [cx - 1.5, cy + 4], [cx + 5, cy - 4]], null, '#111', 1.4, false); }

sourceIcon(21.5, 445, '#222');
text(30, 444, 'Source1', 13.5, '#111');
text(57.5, 457.5, '3', 13.5, '#111', 'center');
edge(129, 444, true, '#111');
edge(176.5, 444, false, '#111');
check(134, 457.5);
sourceIcon(218, 445, '#a8b0bb');
text(227, 444, 'Source2', 13.5, '#111');
text(251.5, 457.5, '4', 13.5, '#111', 'center');
edge(327, 444, true, '#111');
edge(369, 444, false, '#111');
check(326, 457.5);
text(443, 444, 'Measure', 13, '#111', 'center');
text(442, 457.5, 'Delay', 13, '#111', 'center');
poly([[539, 446], [553, 452.7], [543.5, 452.7], [543.5, 457.5], [534.5, 457.5], [534.5, 452.7], [525, 452.7]], '#000');

// Channel ground / trigger markers on the left edge
const y3 = chart.convertToPixel({ yAxisIndex: 0 }, 0) - 2;
const y4 = chart.convertToPixel({ yAxisIndex: 1 }, 0);
const yT = chart.convertToPixel({ yAxisIndex: 1 }, ch4TriggerLevel) - 2.5;
text(11.5, y3, '3', 10, '#b04cff', 'center');
poly([[15.5, y3 - 3.5], [20.5, y3], [15.5, y3 + 3.5]], '#b04cff');
poly([[12, y3 + 5.5], [18, y3 + 5.5]], null, '#c88cff', 1, false);
poly([[13, y3 + 6.5], [17, y3 + 6.5], [15, y3 + 9]], '#c88cff');
text(11, y4, '4', 10, '#ff2a93', 'center');
poly([[14.5, y4 - 3.5], [20.5, y4], [14.5, y4 + 3.5]], '#ff2a93');
poly([[12, y4 + 5.5], [18, y4 + 5.5]], null, '#ff8fc6', 1, false);
poly([[13, y4 + 6.5], [17, y4 + 6.5], [15, y4 + 9]], '#ff8fc6');
text(13.5, yT, 'T', 10, '#ff2a93', 'center');
poly([[17, yT - 3], [21, yT], [17, yT + 3]], '#ff2a93');

chart.setOption({ graphic: G });
</script>
</body>
</html>
